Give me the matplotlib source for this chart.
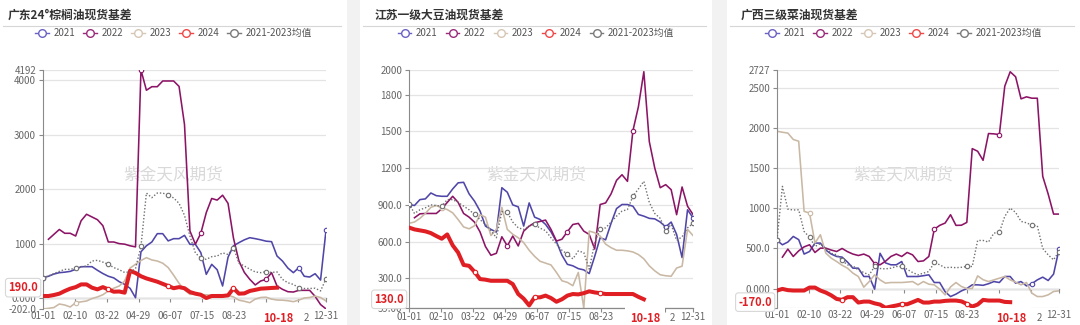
import numpy as np
import matplotlib
matplotlib.use("Agg")
import matplotlib.pyplot as plt
from matplotlib.lines import Line2D
from matplotlib.patches import Rectangle

plt.rcParams['font.family'] = ['Noto Sans CJK SC', 'DejaVu Sans']

W, H = 1080, 325
nan = np.nan

weeks = np.arange(53)
xtick_pos = [0, 5.85, 11.7, 17.55, 23.4, 29.25, 35.1, 40.95, 46.8, 52]
xtick_lab = ['01-01', '02-10', '03-22', '04-29', '06-07', '07-15', '08-23', '', '', '12-31']
hover_date = '10-18'
hover_x = 43.2

series_names = ['2021', '2022', '2023', '2024', '2021-2023均值']
colors = ['#4f46a8', '#8c1466', '#c9b8a4', '#e01f24', '#707070']
legend_colors = ['#6a62c4', '#9a2a7a', '#d6c6b4', '#f04848', '#7a7a7a']

# 广东24°棕榈油
palm_2021 = [374, 400, 440, 466, 475, 490, 527, 576, 576, 576, 510, 450, 400, 370, 300, 251, 178, 5, 850, 960,
             1030, 1183, 1183, 1050, 1091, 1091, 1152, 987, 987, 834, 435, 619, 520, 221, 750, 960, 1018, 1070,
             1109, 1091, 1070, 1045, 1036, 772, 680, 550, 466, 558, 400, 386, 447, 330, 1244]
palm_2022 = [nan, 1080, 1170, 1260, 1190, 1190, 1140, 1420, 1540, 1490, 1440, 1330, 1030, 1030, 1000, 990, 960,
             940, 4192, 3820, 3885, 3885, 3990, 3990, 3990, 3890, 3190, 1232, 990, 1190, 1570, 1830, 1800, 1890,
             1740, 1100, 680, 470, 343, 240, 313, 343, 466, 221, 160, 116, 110, 141, 141, 141, 30, -120, -200]
palm_2023 = [-200, -190, -175, -110, -129, -165, -86, -70, -55, -10, 20, 60, 129, 180, 220, 313, 550, 620, 690,
             742, 700, 680, 640, 560, 420, 270, 150, 67, 70, 60, 60, 50, 60, 60, 50, 20, -40, -60, -86, -20, 10,
             15, -20, -37, -40, -50, -67, -40, 0, 10, 35, 10, -55]
palm_2024 = [37, 37, 55, 80, 129, 172, 200, 250, 250, 190, 159, 200, 159, 116, 120, 98, 500, 460, 400, 360, 330,
             300, 260, 221, 180, 200, 180, 110, 80, 60, 0, 37, 37, 37, 49, 178, 80, 85, 130, 150, 172, 178, 185, 190]
palm_avg = [374, 405, 450, 490, 527, 527, 550, 570, 590, 680, 693, 660, 619, 560, 520, 470, 480, 540, 950, 1930,
            1845, 1930, 1930, 1890, 1840, 1740, 1520, 1140, 830, 730, 711, 760, 772, 830, 800, 926, 640, 588, 530,
            480, 466, 485, 470, 480, 343, 280, 250, 190, 175, 175, 180, 130, 355]

# 江苏一级大豆油
soy_2021 = [903, 895, 943, 949, 997, 975, 970, 970, 1030, 1080, 1084, 990, 930, 850, 727, 700, 678, 1040, 1003,
            900, 884, 727, 916, 800, 781, 741, 680, 600, 490, 415, 403, 380, 370, 340, 480, 632, 615, 750, 870,
            903, 903, 889, 822, 808, 790, 786, 760, 720, 760, 659, 470, 860, 795]
soy_2022 = [nan, 795, 827, 830, 830, 830, 868, 920, 970, 920, 830, 800, 759, 680, 560, 489, 505, 640, 565, 646,
            565, 686, 727, 754, 765, 776, 700, 605, 620, 681, 740, 749, 686, 659, 540, 903, 916, 990, 1100, 1146,
            1092, 1505, 1700, 1986, 1416, 1200, 1040, 1065, 1024, 820, 1046, 889, 822]
soy_2023 = [750, 760, 790, 830, 880, 895, 875, 862, 835, 780, 720, 705, 730, 820, 800, 650, 700, 880, 700, 660,
            632, 592, 530, 480, 440, 425, 410, 349, 281, 268, 241, 349, 59, 686, 673, 646, 580, 551, 530, 530,
            525, 516, 495, 460, 403, 362, 330, 322, 318, 385, 400, 700, 650]
soy_2024 = [715, 700, 692, 684, 670, 646, 624, 659, 570, 511, 410, 403, 354, 295, 290, 281, 281, 281, 281, 254,
            173, 135, 80, 146, 146, 160, 140, 110, 130, 160, 173, 170, 180, 195, 186, 180, 173, 173, 173, 173,
            173, 173, 150, 130]
soy_avg = [911, 830, 860, 876, 900, 895, 889, 943, 943, 920, 890, 860, 822, 780, 741, 690, 632, 845, 840, 760,
           713, 700, 727, 741, 710, 690, 632, 580, 530, 497, 460, 524, 511, 376, 592, 700, 713, 760, 808, 849,
           862, 970, 1030, 1092, 920, 830, 790, 690, 741, 610, 640, 713, 749]

# 广西三级菜油
rape_2021 = [600, 546, 580, 650, 610, 430, 462, 567, 567, 480, 430, 400, 392, 330, 254, 254, 150, 150, -8, 440,
             320, 296, 296, 337, 150, 150, 150, 160, 171, 75, 75, -40, -100, -70, -30, 0, 46, 46, 40, 60, 87, 75,
             150, 150, 67, 87, 33, 60, 108, 142, 100, 180, 490]
rape_2022 = [nan, 392, 492, 400, 470, 520, 546, 450, 504, 504, 480, 462, 500, 460, 430, 412, 430, 400, 310, 296,
             340, 400, 430, 400, 450, 420, 337, 345, 400, 740, 788, 817, 921, 788, 790, 825, 1746, 1713, 1600,
             1934, 1930, 1921, 2525, 2705, 2642, 2367, 2392, 2375, 2375, 1400, 1180, 929, 929]
rape_2023 = [1963, 1950, 1940, 1860, 1838, 963, 942, 567, 671, 442, 379, 337, 290, 254, 192, 150, 17, 87, 171,
             108, 67, 75, 75, 75, 80, 87, 46, 87, 54, 46, -8, -79, 20, 75, 25, 0, 0, 158, 110, 87, 108, 129, 150,
             108, 80, 46, 75, -58, -100, -100, -79, -37, -29]
rape_2024 = [-25, -5, -20, -25, -25, -25, 12, 12, -25, -50, -85, -130, -142, -108, -108, -175, -163, -163, -185,
             -200, -240, -225, -212, -196, -196, -170, -142, -175, -175, -163, -163, -154, -150, -150, -160, -192,
             -225, -200, -142, -150, -150, -150, -167, -170]
rape_avg = [608, 1275, 990, 980, 983, 712, 640, 525, 560, 500, 440, 421, 350, 296, 283, 230, 200, 170, 275, 250,
            245, 254, 275, 275, 240, 200, 171, 192, 212, 325, 296, 260, 265, 260, 265, 275, 275, 600, 600, 580,
            692, 700, 900, 1004, 950, 838, 820, 790, 783, 500, 420, 358, 462]

panels = [
    dict(title='广东24°棕榈油现货基差', card=(0, 347), title_x=8, box=(43, 326, 70, 309),
         data=[palm_2021, palm_2022, palm_2023, palm_2024, palm_avg],
         yticks=[-202, 0, 1000, 2000, 3000, 4000, 4192],
         ylabels=['-202.0', '0.000', '1000', '2000', '3000', '4000', '4192']),
    dict(title='江苏一级大豆油现货基差', card=(360, 712), title_x=375, box=(409, 693, 70, 308),
         data=[soy_2021, soy_2022, soy_2023, soy_2024, soy_avg],
         yticks=[59, 300, 600, 900, 1200, 1500, 1800, 2000],
         ylabels=['59.00', '300.0', '600.0', '900.0', '1200', '1500', '1800', '2000']),
    dict(title='广西三级菜油现货基差', card=(727, 1080), title_x=741, box=(777, 1059, 70, 308),
         data=[rape_2021, rape_2022, rape_2023, rape_2024, rape_avg],
         yticks=[-243, 0, 500, 1000, 1500, 2000, 2500, 2727],
         ylabels=['-243.0', '0.000', '500.0', '1000', '1500', '2000', '2500', '2727']),
]

# which points carry a hollow symbol, per series
mark_idx = [[0, 47, 52], [18, 29, 41], [6], [12, 23, 35], [0, 6, 12, 18, 23, 29, 35, 41, 47, 52]]


def fx(x):
    return x / W


def fy(y):
    return 1 - y / H


fig = plt.figure(figsize=(W / 100, H / 100), dpi=100)
fig.patch.set_facecolor('#f2f2f2')

for p in panels:
    c0, c1 = p['card']
    fig.add_artist(Rectangle((fx(c0), 0), fx(c1) - fx(c0), 1, transform=fig.transFigure,
                             facecolor='white', edgecolor='none', zorder=-5))
    fig.text(fx(p['title_x']), fy(15), p['title'], fontsize=8.5, fontweight='bold', color='#333333',
             va='center', ha='left')
    fig.add_artist(Line2D([fx(c0 + 3), fx(c1 - 6)], [fy(26), fy(26)], color='#d6d6d6', lw=0.8))

    handles = [Line2D([], [], color=c, lw=1, marker='o', ms=5.5, mfc='white', mec=c, mew=1)
               for c in legend_colors]
    fig.legend(handles, series_names, loc='center', bbox_to_anchor=(fx((c0 + c1) / 2), fy(33)), ncol=5,
               frameon=False, fontsize=7, handlelength=1.4, handletextpad=0.45, columnspacing=0.85,
               labelcolor='#555555', borderpad=0, borderaxespad=0)

    l, r, t, b = p['box']
    ax = fig.add_axes([fx(l), fy(b), fx(r) - fx(l), (b - t) / H])
    ax.set_facecolor('none')
    ymin, ymax = p['yticks'][0], p['yticks'][-1]
    ax.set_xlim(0, 52)
    ax.set_ylim(ymin, ymax)

    for s in ['top', 'right']:
        ax.spines[s].set_visible(False)
    ax.spines['left'].set_color('#8a8a8a')
    ax.spines['left'].set_linewidth(0.8)
    ax.set_yticks(p['yticks'], p['ylabels'])
    ax.tick_params(axis='y', length=3, width=0.8, color='#8a8a8a', labelsize=7, labelcolor='#666666', pad=2)
    ax.set_xticks(xtick_pos, xtick_lab)
    ax.grid(axis='y', color='#e4e4e4', lw=0.9)
    ax.set_axisbelow(True)

    if ymin < 0:
        ax.spines['bottom'].set_visible(False)
        ax.tick_params(axis='x', length=0, labelsize=7, labelcolor='#666666', pad=1.2)
        sec = ax.secondary_xaxis(-ymin / (ymax - ymin))
        sec.set_xticks(xtick_pos, [''] * len(xtick_pos))
        sec.tick_params(length=3, width=0.8, color='#8a8a8a')
        for sp in sec.spines.values():
            sp.set_color('#8a8a8a')
            sp.set_linewidth(0.9)
    else:
        ax.spines['bottom'].set_color('#8a8a8a')
        ax.spines['bottom'].set_linewidth(0.9)
        ax.tick_params(axis='x', length=3, width=0.8, color='#8a8a8a', labelsize=7, labelcolor='#666666',
                       pad=0)

    # watermark
    ax.text(fx((c0 + c1) / 2), fy(175), '紫金天风期货', transform=fig.transFigure, fontsize=12,
            color='#d9d9d9', ha='center', va='center', zorder=0.5)

    for i, (vals, c) in enumerate(zip(p['data'], colors)):
        y = np.array(vals, dtype=float)
        x = weeks[:len(y)]
        me = [k for k in mark_idx[i] if k < len(y) and not np.isnan(y[k])]
        if i == 3:
            kw = dict(lw=2.9, zorder=3)
        elif i == 4:
            kw = dict(lw=1.0, linestyle=(0, (1, 1.4)), zorder=3.5)
        else:
            kw = dict(lw=1.15, zorder=2 + i * 0.1)
        ax.plot(x, y, color=c, marker='o', ms=3.2, mfc='white', mec=c, mew=0.8, markevery=me,
                solid_joinstyle='round', **kw)

    last = p['data'][3][-1]
    ax.annotate(f'{last:.1f}', xy=(0, last), xycoords=('axes fraction', 'data'), xytext=(-5, 0),
                textcoords='offset pixels', ha='right', va='center', color='#e01f24', fontsize=8,
                fontweight='bold', annotation_clip=False, zorder=6,
                bbox=dict(boxstyle='round,pad=0.25', fc='white', ec='#d8d8d8', lw=0.8))
    ax.annotate('2', xy=(48.3, 0), xycoords=('data', 'axes fraction'), xytext=(0, b - 318),
                textcoords='offset pixels', ha='center', va='center', color='#666666', fontsize=7,
                annotation_clip=False)
    ax.annotate(hover_date, xy=(hover_x, 0), xycoords=('data', 'axes fraction'), xytext=(0, b - 318),
                textcoords='offset pixels', ha='center', va='center', color='#e01f24', fontsize=8,
                fontweight='bold', annotation_clip=False, zorder=6,
                bbox=dict(boxstyle='square,pad=0.4', fc='white', ec='none'))

fig.savefig('out.png', dpi=100, facecolor=fig.get_facecolor())
